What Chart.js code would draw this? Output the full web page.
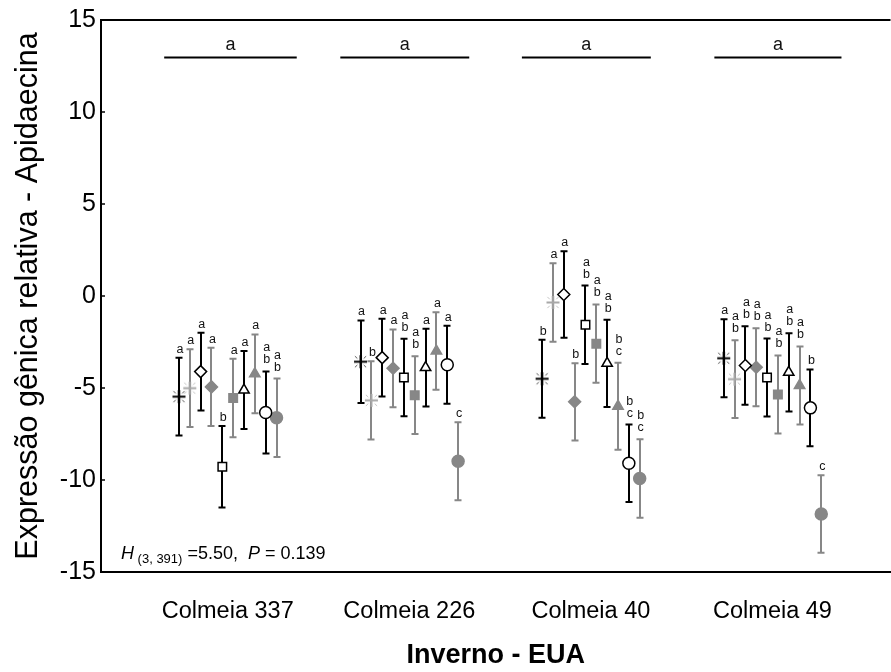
<!DOCTYPE html>
<html>
<head>
<meta charset="utf-8">
<script src="https://cdn.jsdelivr.net/npm/chart.js@4.4.1/dist/chart.umd.min.js"></script>
<style>
  html, body { margin: 0; padding: 0; background: #fff; overflow: hidden; }
  /* the plot frame runs off the right edge of the page */
  #wrap { width: 898px; height: 672px; position: relative; }
</style>
</head>
<body>
<div id="wrap"><canvas id="chart"></canvas></div>
<script>
const FONT = "'Liberation Sans', Arial, sans-serif";
const BLACK = '#000000';
const GREY = '#878787';

const hives = ['Colmeia 337', 'Colmeia 226', 'Colmeia 40', 'Colmeia 49'];
const yTicks = [-15, -10, -5, 0, 5, 10, 15];

// one value per marker type, in the order:
// asterisk black, asterisk grey, diamond open, diamond grey, square open,
// square grey, triangle open, triangle grey, circle open, circle grey
const means337 = [-5.47, -5.01, -4.11, -4.94, -9.28, -5.54, -5.11, -4.23, -6.33, -6.62];
const err337 = [2.11, 2.11, 2.11, 2.13, 2.22, 2.13, 2.12, 2.14, 2.23, 2.13];
const letters337 = ['a', 'a', 'a', 'a', 'b', 'a', 'a', 'a', 'ab', 'ab'];

const means226 = [-3.57, -5.67, -3.35, -3.93, -4.43, -5.39, -3.89, -2.99, -3.74, -8.98];
const err226 = [2.24, 2.13, 2.11, 2.11, 2.11, 2.11, 2.11, 2.11, 2.12, 2.12];
const letters226 = ['a', 'b', 'a', 'a', 'ab', 'ab', 'a', 'a', 'a', 'c'];

const means40 = [-4.50, -0.35, 0.08, -5.75, -1.56, -2.59, -3.66, -5.99, -9.09, -9.92];
const err40 = [2.12, 2.13, 2.35, 2.10, 2.13, 2.13, 2.37, 2.36, 2.10, 2.13];
const letters40 = ['b', 'a', 'a', 'b', 'ab', 'ab', 'ab', 'bc', 'bc', 'bc'];

const means49 = [-3.38, -4.52, -3.78, -3.87, -4.43, -5.35, -4.15, -4.86, -6.08, -11.85];
const err49 = [2.12, 2.11, 2.13, 2.12, 2.12, 2.12, 2.13, 2.12, 2.09, 2.11];
const letters49 = ['a', 'ab', 'ab', 'ab', 'ab', 'ab', 'ab', 'ab', 'b', 'c'];

// group comparison lines above each hive
const bracketFrom = [-0.35, 0.62, 1.62, 2.68];
const bracketTo = [0.38, 1.33, 2.33, 3.38];
const bracketLevel = 12.96;
const bracketText = ['a', 'a', 'a', 'a'];

const groupMeans = [means337, means226, means40, means49];
const groupErr = [err337, err226, err40, err49];
const groupLetters = [letters337, letters226, letters40, letters49];

const slot = 0.0597;

function asterisk(color, dash) {
    let c = document.createElement('canvas');
    c.width = 15;
    c.height = 15;
    let g = c.getContext('2d');
    g.strokeStyle = color;
    g.lineWidth = 2;
    g.beginPath();
    g.moveTo(1, 7.5); g.lineTo(14, 7.5);
    g.moveTo(7.5, 1); g.lineTo(7.5, 14);
    g.stroke();
    g.strokeStyle = dash;
    g.lineWidth = 1;
    g.beginPath();
    [[1, 1], [1, -1], [-1, 1], [-1, -1]].forEach(([dx, dy]) => {
        g.moveTo(7.5 + dx * 3.2, 7.5 + dy * 3.2);
        g.lineTo(7.5 + dx * 5.6, 7.5 + dy * 5.6);
    });
    g.stroke();
    return c;
}

const markers = [
    { name: 'asterisco preto', style: asterisk(BLACK, '#555'), fill: BLACK, border: BLACK, bar: BLACK },
    { name: 'asterisco cinza', style: asterisk('#a8a8a8', '#c4c4c4'), fill: GREY, border: GREY, bar: GREY },
    { name: 'losango aberto', style: 'rectRot', fill: '#fff', border: BLACK, bar: BLACK },
    { name: 'losango cinza', style: 'rectRot', fill: GREY, border: GREY, bar: GREY },
    { name: 'quadrado aberto', style: 'rect', fill: '#fff', border: BLACK, bar: BLACK },
    { name: 'quadrado cinza', style: 'rect', fill: GREY, border: GREY, bar: GREY },
    { name: 'triângulo aberto', style: 'triangle', fill: '#fff', border: BLACK, bar: BLACK },
    { name: 'triângulo cinza', style: 'triangle', fill: GREY, border: GREY, bar: GREY },
    { name: 'círculo aberto', style: 'circle', fill: '#fff', border: BLACK, bar: BLACK },
    { name: 'círculo cinza', style: 'circle', fill: GREY, border: GREY, bar: GREY },
];

let datasets = markers.map((m, k) => ({
    label: m.name,
    data: hives.map((h, g) => ({
        x: g + (k - 4.5) * slot,
        y: groupMeans[g][k],
        err: groupErr[g][k],
        tag: groupLetters[g][k],
    })),
    showLine: false,
    pointStyle: m.style,
    pointRadius: 6,
    pointHoverRadius: 6,
    pointBackgroundColor: m.fill,
    pointBorderColor: m.border,
    pointBorderWidth: 1.5,
    barColor: m.bar,
}));

bracketFrom.forEach((x0, i) => {
    datasets.push({
        label: 'grupo ' + hives[i],
        data: [{ x: x0, y: bracketLevel }, { x: bracketTo[i], y: bracketLevel }],
        showLine: true,
        borderColor: BLACK,
        borderWidth: 2,
        pointRadius: 0,
        bracket: bracketText[i],
    });
});

const errorBars = {
    id: 'errorBars',
    beforeDatasetsDraw(chart) {
        const { ctx, scales: { x, y } } = chart;
        ctx.save();
        ctx.lineWidth = 2;
        chart.data.datasets.forEach(ds => {
            if (!ds.barColor) return;
            ctx.strokeStyle = ds.barColor;
            ds.data.forEach(p => {
                let px = Math.round(x.getPixelForValue(p.x));
                let top = y.getPixelForValue(p.y + p.err);
                let bot = y.getPixelForValue(p.y - p.err);
                ctx.beginPath();
                ctx.moveTo(px, top); ctx.lineTo(px, bot);
                ctx.moveTo(px - 3.5, top); ctx.lineTo(px + 3.5, top);
                ctx.moveTo(px - 3.5, bot); ctx.lineTo(px + 3.5, bot);
                ctx.stroke();
            });
        });
        ctx.restore();
    },
    afterDatasetsDraw(chart) {
        const { ctx, chartArea, scales: { x, y } } = chart;
        ctx.save();
        ctx.fillStyle = '#111';
        ctx.textAlign = 'center';
        ctx.textBaseline = 'alphabetic';

        // significance letters over each bar
        ctx.font = '12.5px ' + FONT;
        chart.data.datasets.forEach(ds => {
            if (!ds.barColor) return;
            ds.data.forEach(p => {
                let px = x.getPixelForValue(p.x) + 1;
                let top = y.getPixelForValue(p.y + p.err);
                let chars = p.tag.split('');
                let base = top - (chars.length > 1 ? 8 : 5);
                chars.slice().reverse().forEach((ch, j) => {
                    ctx.fillText(ch, px, base - j * 12);
                });
            });
        });

        // letters over the group lines
        ctx.font = '18px ' + FONT;
        chart.data.datasets.forEach(ds => {
            if (!ds.bracket) return;
            let cx = (x.getPixelForValue(ds.data[0].x) + x.getPixelForValue(ds.data[1].x)) / 2;
            let cy = y.getPixelForValue(ds.data[0].y);
            ctx.fillText(ds.bracket, cx, cy - 8);
        });

        // top frame line and inward y ticks
        ctx.strokeStyle = BLACK;
        ctx.lineWidth = 2;
        ctx.beginPath();
        ctx.moveTo(chartArea.left - 1, chartArea.top);
        ctx.lineTo(chartArea.right, chartArea.top);
        ctx.stroke();
        ctx.lineWidth = 1.5;
        y.ticks.forEach(t => {
            let py = y.getPixelForValue(t.value);
            ctx.beginPath();
            ctx.moveTo(chartArea.left, py);
            ctx.lineTo(chartArea.left + 4, py);
            ctx.stroke();
        });

        // Kruskal-Wallis result
        let tx = chartArea.left + 20;
        let ty = chartArea.bottom - 13;
        ctx.textAlign = 'left';
        ctx.fillStyle = BLACK;
        const parts = [
            ['italic 18px ' + FONT, 'H', 0],
            ['13px ' + FONT, ' (3, 391)', 4],
            ['18px ' + FONT, ' =5.50,  ', 0],
            ['italic 18px ' + FONT, 'P', 0],
            ['18px ' + FONT, ' = 0.139', 0],
        ];
        parts.forEach(([font, text, dy]) => {
            ctx.font = font;
            ctx.fillText(text, tx, ty + dy);
            tx += ctx.measureText(text).width;
        });
        ctx.restore();
    }
};

new Chart(document.getElementById('chart'), {
    type: 'scatter',
    data: { datasets: datasets },
    plugins: [errorBars],
    options: {
        responsive: true,
        maintainAspectRatio: false,
        animation: false,
        layout: { padding: { top: 19, right: 0, left: 0, bottom: 0 } },
        plugins: {
            legend: { display: false },
            tooltip: { enabled: false },
        },
        scales: {
            x: {
                type: 'linear',
                min: -0.698,
                max: 3.65,
                afterBuildTicks: scale => {
                    scale.ticks = hives.map((h, i) => ({ value: i }));
                },
                afterFit: scale => { scale.height = 100; },
                grid: { display: false, drawTicks: false },
                border: { display: true, color: BLACK, width: 2 },
                ticks: {
                    autoSkip: false,
                    maxRotation: 0,
                    padding: 25,
                    color: BLACK,
                    font: { family: FONT, size: 23.5 },
                    callback: v => hives[v],
                },
                title: {
                    display: true,
                    text: 'Inverno - EUA',
                    color: BLACK,
                    font: { family: FONT, size: 27, weight: 'bold' },
                    padding: { top: 0, bottom: 0 },
                },
            },
            y: {
                min: -15,
                max: 15,
                afterBuildTicks: scale => {
                    scale.ticks = yTicks.map(v => ({ value: v }));
                },
                afterFit: scale => { scale.width = 101; },
                grid: { display: false, drawTicks: false },
                border: { display: true, color: BLACK, width: 2 },
                ticks: {
                    padding: 5,
                    color: BLACK,
                    font: { family: FONT, size: 25 },
                },
                title: {
                    display: true,
                    text: 'Expressão gênica relativa - Apidaecina',
                    color: BLACK,
                    font: { family: FONT, size: 30.5 },
                    padding: { top: 10, bottom: 0 },
                },
            },
        },
    },
});
</script>
</body>
</html>
